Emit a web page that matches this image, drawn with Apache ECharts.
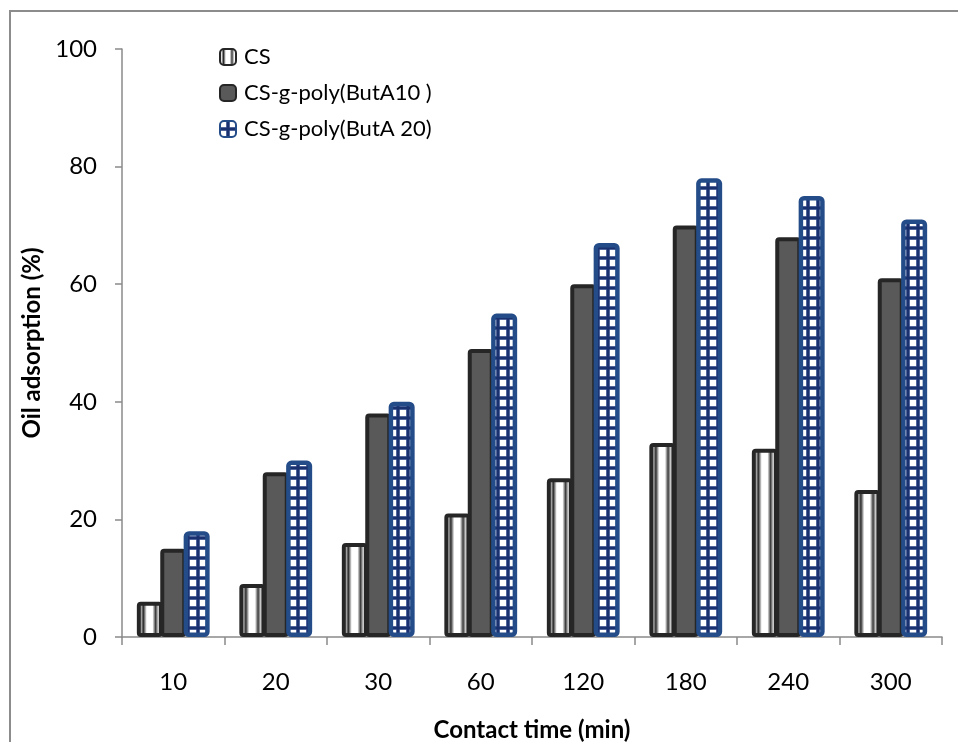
<!DOCTYPE html>
<html>
<head>
<meta charset="utf-8">
<script src="https://cdn.jsdelivr.net/npm/echarts@6/dist/echarts.min.js"></script>
<style>
  html, body { margin: 0; padding: 0; background: #fff; }
  #chart { width: 958px; height: 742px; }
</style>
</head>
<body>
<div id="chart"></div>
<script>
// Contact time categories (min)
const contactTimes = ['10', '20', '30', '60', '120', '180', '240', '300'];
// Oil adsorption (%) per sample
const csValues = [6, 9, 16, 21, 27, 33, 32, 25];
const butA10Values = [15, 28, 38, 49, 60, 70, 68, 61];
const butA20Values = [18, 30, 40, 55, 67, 78, 75, 71];
const seriesNames = ['CS', 'CS-g-poly(ButA10 )', 'CS-g-poly(ButA 20)'];
const yTicks = [0, 20, 40, 60, 80, 100];

const FONT = 'Lato';

// Checker tile: white cells separated by navy lines
function gridTile() {
  const c = document.createElement('canvas');
  c.width = 10; c.height = 10;
  const g = c.getContext('2d');
  g.fillStyle = '#ffffff';
  g.fillRect(0, 0, 10, 10);
  g.fillStyle = '#8a9dc6';
  g.fillRect(6, 0, 4, 10);
  g.fillRect(0, 6, 10, 4);
  g.fillStyle = '#1a3170';
  g.fillRect(6.5, 0, 3, 10);
  g.fillRect(0, 6.5, 10, 3);
  return c;
}

// Cylinder-like vertical stripes for the plain chitosan bars
const stripeFill = new echarts.graphic.LinearGradient(0, 0, 1, 0, [
  { offset: 0, color: '#9a9a9a' },
  { offset: 0.12, color: '#ffffff' },
  { offset: 0.25, color: '#2a2a2a' },
  { offset: 0.38, color: '#ffffff' },
  { offset: 0.6, color: '#ffffff' },
  { offset: 0.72, color: '#3a3a3a' },
  { offset: 0.85, color: '#ffffff' },
  { offset: 1, color: '#b0b0b0' }
]);

const chart = echarts.init(document.getElementById('chart'), null, { renderer: 'canvas' });

// Neighbouring bars share their outlines
const barBase = { type: 'bar', barWidth: 26, barGap: '-10%' };

chart.setOption({
  animation: false,
  backgroundColor: '#ffffff',
  graphic: [{
    type: 'polyline',
    shape: { points: [[10, 760], [10, 11], [970, 11]] },
    style: { stroke: '#8c8c8c', lineWidth: 2, fill: null },
    silent: true
  }],
  grid: { left: 122, top: 49, right: 16, bottom: 105, containLabel: false, outerBoundsMode: 'none' },
  legend: {
    orient: 'vertical',
    left: 214,
    top: 41,
    itemWidth: 16,
    itemHeight: 16,
    itemGap: 14,
    icon: 'roundRect',
    data: seriesNames,
    textStyle: { fontFamily: FONT, fontSize: 22, color: '#000', padding: [0, 0, 0, 3] }
  },
  xAxis: {
    type: 'category',
    data: contactTimes,
    boundaryGap: true,
    name: 'Contact time (min)',
    nameLocation: 'middle',
    nameGap: 81,
    nameTextStyle: { fontFamily: FONT, fontSize: 24, fontWeight: 'bold', color: '#000' },
    axisLine: { lineStyle: { color: '#8a8a8a', width: 1.5 } },
    axisTick: { show: true, length: 8, lineStyle: { color: '#8a8a8a', width: 1.5 } },
    axisLabel: { margin: 33, fontFamily: FONT, fontSize: 24, color: '#000' }
  },
  yAxis: {
    type: 'value',
    min: yTicks[0],
    max: yTicks[yTicks.length - 1],
    interval: 20,
    name: 'Oil adsorption (%)',
    nameLocation: 'middle',
    nameGap: 72,
    nameTextStyle: { fontFamily: FONT, fontSize: 24, fontWeight: 'bold', color: '#000' },
    axisLine: { show: true, lineStyle: { color: '#8a8a8a', width: 1.5 } },
    axisTick: { show: true, length: 7, lineStyle: { color: '#8a8a8a', width: 1.5 } },
    splitLine: { show: false },
    axisLabel: { margin: 25, fontFamily: FONT, fontSize: 24, color: '#000' }
  },
  series: [
    Object.assign({}, barBase, {
      name: seriesNames[0],
      data: csValues,
      z: 2,
      itemStyle: { color: stripeFill, borderColor: '#262626', borderWidth: 4, borderRadius: 2 }
    }),
    Object.assign({}, barBase, {
      name: seriesNames[1],
      data: butA10Values,
      z: 3,
      itemStyle: { color: '#595959', borderColor: '#262626', borderWidth: 4, borderRadius: 2 }
    }),
    Object.assign({}, barBase, {
      name: seriesNames[2],
      data: butA20Values,
      z: 4,
      itemStyle: {
        color: { image: gridTile(), repeat: 'repeat' },
        borderColor: '#244c88',
        borderWidth: 4.5,
        borderRadius: 3
      }
    })
  ]
});
</script>
</body>
</html>
